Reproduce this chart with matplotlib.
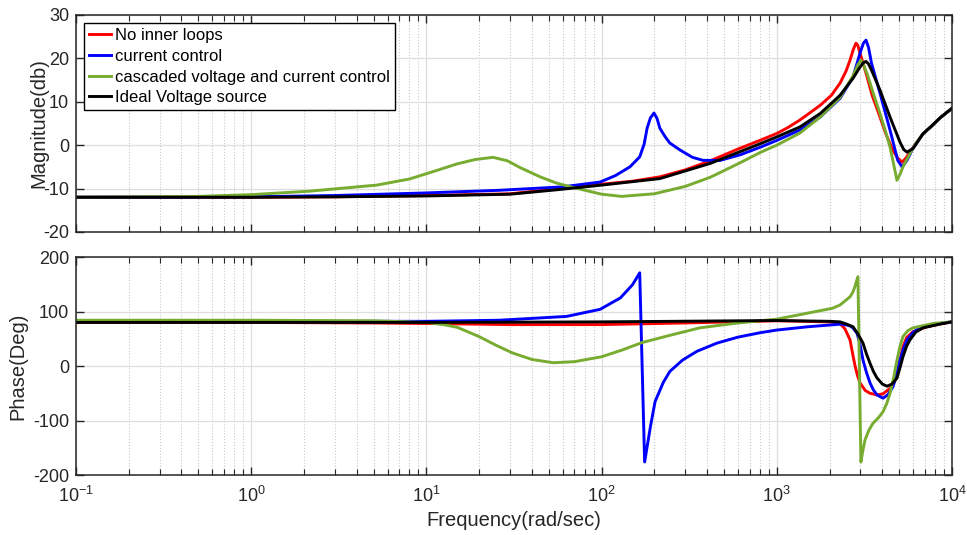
import numpy as np
import matplotlib.pyplot as plt
from matplotlib.ticker import LogLocator, NullFormatter

plt.rcParams['font.family'] = ['Liberation Sans', 'DejaVu Sans']
plt.rcParams['mathtext.default'] = 'regular'
plt.rcParams['axes.unicode_minus'] = False

labels = ['No inner loops', 'current control',
          'cascaded voltage and current control', 'Ideal Voltage source']
colors = ['#ff0000', '#0000ff', '#77ac30', '#000000']

# magnitude (dB)
f_mag_red = [0.1, 1, 3, 10, 30, 58, 100, 150, 215, 300, 417, 600, 812, 1000, 1150, 1355,
             1770, 2050, 2296, 2480, 2618, 2730, 2830, 2900, 2985, 3100, 3230, 3500, 3880,
             4200, 4600, 4900, 5190, 5450, 5755, 6250, 6823, 7600, 8550, 10000]
mag_red = [-12.0, -12.0, -11.9, -11.6, -11.2, -10.0, -9.0, -8.3, -7.3, -5.7, -3.6, -0.9, 1.2, 2.7, 4.0, 5.8,
           9.2, 11.5, 14.3, 17.0, 19.6, 22.0, 23.5, 23.0, 21.2, 19.0, 16.6, 11.5, 6.5,
           2.5, -1.2, -3.0, -3.9, -3.0, -1.6, 0.5, 2.6, 4.3, 6.3, 8.5]

f_mag_blue = [0.1, 1, 3, 10, 26, 60, 98, 120, 145, 165, 175, 182, 190, 199, 207, 215,
              230, 245, 280, 330, 380, 475, 620, 812, 1000, 1355, 1770, 2296, 2722, 2985,
              3120, 3230, 3340, 3470, 3880, 4426, 4900, 5190, 5534, 5984, 6823, 7600, 8550, 10000]
mag_blue = [-12.0, -11.9, -11.6, -11.0, -10.4, -9.6, -8.5, -7.0, -5.0, -2.7, 0.3, 4.0, 6.3, 7.4, 6.2, 3.9,
            2.0, 0.5, -1.1, -2.8, -3.5, -3.5, -2.2, -0.4, 1.1, 3.5, 6.5, 10.8, 15.7, 21.2,
            23.5, 24.2, 22.5, 18.9, 12.0, 3.5, -3.5, -5.0, -3.5, -0.7, 2.6, 4.3, 6.3, 8.5]

f_mag_green = [0.1, 0.5, 1, 2.15, 5.2, 8, 11.3, 15, 19, 24, 29, 34, 44.6, 55, 68, 100,
               130, 200, 300, 417, 600, 812, 1000, 1355, 1770, 2296, 2500, 2722, 2900, 3020,
               3120, 3273, 3550, 3880, 4150, 4426, 4650, 4850, 5050, 5248, 5755, 6250, 6823,
               7600, 8550, 10000]
mag_green = [-12.0, -11.8, -11.4, -10.6, -9.2, -7.8, -5.9, -4.3, -3.3, -2.8, -3.6, -5.1, -7.3, -8.7, -9.7, -11.3,
             -11.8, -11.2, -9.5, -7.4, -4.3, -1.6, 0.0, 2.8, 6.5, 11.0, 13.5, 16.0, 18.5, 19.6,
             18.5, 16.5, 12.0, 7.3, 3.5, -0.4, -4.5, -8.1, -6.7, -5.0, -1.9, 0.5, 2.6,
             4.3, 6.3, 8.5]

f_mag_black = [0.1, 1, 3, 10, 30, 58, 100, 215, 417, 812, 1000, 1355, 1770, 2296, 2722,
               2985, 3120, 3230, 3340, 3470, 3880, 4426, 5047, 5300, 5534, 5984, 6823, 7600,
               8550, 10000]
mag_black = [-12.0, -12.0, -11.9, -11.7, -11.3, -10.2, -9.2, -7.7, -4.2, 0.4, 1.9, 4.2, 7.3, 11.5, 15.4,
             18.0, 19.0, 19.3, 18.7, 17.3, 12.7, 6.5, 0.7, -1.0, -1.6, -0.8, 2.6, 4.3,
             6.3, 8.5]

# phase (deg)
f_ph_red = [0.1, 1, 5, 10, 30, 100, 300, 1000, 2000, 2296, 2450, 2618, 2700, 2797, 2890,
            2985, 3200, 3404, 3733, 4036, 4426, 4650, 4853, 5050, 5248, 5500, 5984, 7194,
            8500, 10000]
ph_red = [80, 80, 79, 78, 76, 76, 79, 83, 81, 78, 68, 48, 25, 0, -18,
          -31, -45, -50, -53, -51, -41, -28, -13, 12, 35, 52, 63, 72,
          77, 81]

f_ph_blue = [0.1, 1, 10, 26, 63, 98, 128, 150, 165, 176, 190, 202, 225, 245, 290, 350,
             455, 600, 800, 1000, 1500, 2350, 2600, 2722, 2871, 2985, 3104, 3250, 3404, 3560,
             3733, 4036, 4300, 4603, 4850, 5047, 5300, 5534, 6000, 6561, 8000, 10000]
ph_blue = [82, 82, 82, 84, 91, 104, 125, 149, 171, -176, -111, -65, -30, -10, 11, 27,
           42, 53, 61, 66, 72, 77, 74, 70, 60, 40, 11, -12, -31, -44,
           -53, -59, -53, -38, -15, 11, 33, 48, 62, 70, 77, 81]

f_ph_green = [0.1, 1, 5, 10, 12.5, 15, 20, 25, 31, 40, 53, 70, 100, 130, 170, 250,
              363, 600, 1000, 2080, 2296, 2618, 2722, 2800, 2904, 3020, 3100, 3185, 3350,
              3540, 3800, 4036, 4250, 4426, 4650, 4853, 5050, 5248, 5600, 5984, 7800, 10000]
ph_green = [84, 84, 83, 80, 76, 71, 54, 38, 24, 12, 6, 8, 17, 29, 43, 57,
            70, 79, 86, 106, 112, 127, 136, 147, 164, -176, -155, -136, -118,
            -105, -95, -84, -68, -50, -20, 11, 36, 54, 65, 70, 78, 81]

f_ph_black = [0.1, 10, 100, 1000, 2000, 2296, 2500, 2722, 2900, 3104, 3250, 3404, 3560,
              3733, 4000, 4256, 4550, 4853, 5050, 5248, 5500, 5755, 6200, 6823, 8551, 10000]
ph_black = [80, 80, 81, 83.5, 82, 81, 77, 72, 59, 42, 22, 5, -10,
            -22, -33, -37, -33, -22, -3, 17, 36, 48, 62, 70, 77, 81]

mag_f = [f_mag_red, f_mag_blue, f_mag_green, f_mag_black]
mag_v = [mag_red, mag_blue, mag_green, mag_black]
ph_f = [f_ph_red, f_ph_blue, f_ph_green, f_ph_black]
ph_v = [ph_red, ph_blue, ph_green, ph_black]

fig = plt.figure(figsize=(9.67, 5.35), dpi=100)
ax1 = fig.add_axes([0.0786, 0.5664, 0.9059, 0.4056])
ax2 = fig.add_axes([0.0786, 0.1121, 0.9059, 0.4075])

for f, m, c, lab in zip(mag_f, mag_v, colors, labels):
    ax1.semilogx(f, m, color=c, lw=2.1, label=lab)
for f, p, c in zip(ph_f, ph_v, colors):
    ax2.semilogx(f, p, color=c, lw=2.1)

for ax in (ax1, ax2):
    ax.set_xlim(0.1, 1e4)
    ax.xaxis.set_major_locator(LogLocator(base=10, numticks=10))
    ax.xaxis.set_minor_locator(LogLocator(base=10, subs=np.arange(2, 10), numticks=100))
    ax.xaxis.set_minor_formatter(NullFormatter())
    ax.grid(True, which='major', color='#dedede', lw=0.9, ls='-')
    ax.grid(True, which='minor', color='#c8c8c8', lw=0.8, ls=':')
    ax.tick_params(which='both', direction='in', top=True, right=True,
                   labelsize=13, colors='#262626', labelcolor='#262626')
    ax.tick_params(which='major', length=6, width=1)
    ax.tick_params(which='minor', length=4, width=0.8)
    ax.tick_params(axis='y', pad=5)
    ax.tick_params(axis='x', pad=8)
    for s in ax.spines.values():
        s.set_color('#262626')
        s.set_linewidth(1.1)
    ax.set_axisbelow(True)

ax1.set_ylim(-20, 30)
ax1.set_yticks([-20, -10, 0, 10, 20, 30])
ax1.tick_params(labelbottom=False)
ax1.set_ylabel('Magnitude(db)', fontsize=14.5, color='#262626')
ax1.yaxis.set_label_coords(-0.032, 0.5)

ax2.set_ylim(-200, 200)
ax2.set_yticks([-200, -100, 0, 100, 200])
ax2.set_ylabel('Phase(Deg)', fontsize=14.5, color='#262626')
ax2.yaxis.set_label_coords(-0.055, 0.5)
ax2.set_xlabel('Frequency(rad/sec)', fontsize=14.5, color='#262626')
ax2.xaxis.set_label_coords(0.5, -0.165)

leg = ax1.legend(loc='upper left', fontsize=12, frameon=True, fancybox=False,
                 edgecolor='#000000', framealpha=1, handlelength=1.3,
                 handletextpad=0.25, labelspacing=0.34, borderpad=0.3,
                 borderaxespad=0.5)
leg.get_frame().set_linewidth(1.0)

fig.savefig('out.png', dpi=100)
